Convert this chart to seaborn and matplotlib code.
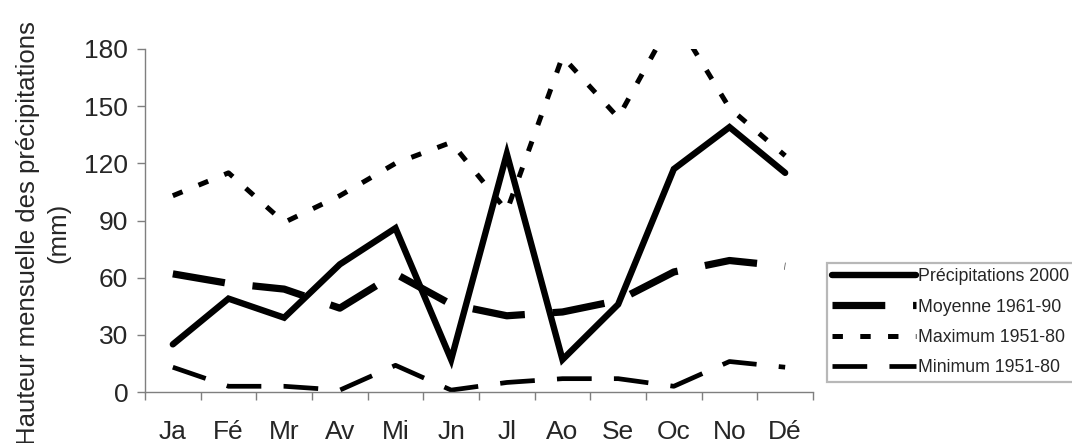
import matplotlib
matplotlib.use("Agg")
import matplotlib.pyplot as plt
from matplotlib.ticker import FixedLocator
import numpy as np
import pandas as pd
import seaborn as sns

# Monthly precipitation (mm)
MONTHS = ["Ja", "Fé", "Mr", "Av", "Mi", "Jn", "Jl", "Ao", "Se", "Oc", "No", "Dé"]
PRECIP_2000 = [25, 49, 39, 67, 86, 17, 125, 17, 46, 117, 139, 115]
MOYENNE_6190 = [62, 57, 54, 44, 62, 46, 40, 42, 48, 63, 69, 66]
MAXIMUM_5180 = [103, 115, 89, 103, 120, 131, 95, 176, 144, 197, 149, 124]
MINIMUM_5180 = [13, 3, 3, 1, 14, 1, 5, 7, 7, 3, 16, 13]
Y_TICKS = [0, 30, 60, 90, 120, 150, 180]

sns.set_style("white")
plt.rcParams["font.family"] = ["Liberation Sans", "DejaVu Sans"]
plt.rcParams["lines.scale_dashes"] = False

fig = plt.figure(figsize=(10.72, 4.43), dpi=100)
ax = fig.add_axes([145 / 1072, 51 / 443, 668 / 1072, 343 / 443])

x = np.arange(len(MONTHS))
series = [
    ("Précipitations 2000", PRECIP_2000, 4.6, "-"),
    ("Moyenne 1961-90", MOYENNE_6190, 5.2, (0, (38, 20))),
    ("Maximum 1951-80", MAXIMUM_5180, 3.6, (0, (7.5, 12.5))),
    ("Minimum 1951-80", MINIMUM_5180, 3.4, (0, (25, 16))),
]
for label, vals, lw, ls in series:
    sns.lineplot(x=x, y=vals, ax=ax, color="black", linewidth=lw, linestyle=ls,
                 label=label, sort=False, solid_capstyle="round",
                 dash_capstyle="butt", solid_joinstyle="miter")

ax.set_xlim(-0.5, len(MONTHS) - 0.5)
ax.set_ylim(0, 180)
ax.set_yticks(Y_TICKS)
ax.set_xticks(x)
ax.set_xticklabels(MONTHS)
ax.xaxis.set_minor_locator(FixedLocator(np.arange(-0.5, len(MONTHS), 1.0)))

for side in ["top", "right"]:
    ax.spines[side].set_visible(False)
for side in ["left", "bottom"]:
    ax.spines[side].set_color("#7f7f7f")
    ax.spines[side].set_linewidth(1.0)

ax.tick_params(axis="y", which="major", direction="out", length=6, width=1,
               color="#7f7f7f", labelsize=19, pad=6, left=True)
ax.tick_params(axis="x", which="major", length=0, labelsize=19, pad=20, bottom=True)
ax.tick_params(axis="x", which="minor", direction="out", length=6, width=1,
               color="#7f7f7f", bottom=True)

ax.set_ylabel("Hauteur mensuelle des précipitations\n(mm)", fontsize=18.5,
              linespacing=1.35)
ax.yaxis.set_label_coords(-0.112, 0.4636)

leg = ax.legend(loc="upper left", bbox_to_anchor=(827 / 1072, 1 - 263 / 443),
                bbox_transform=fig.transFigure, fontsize=12.8, handlelength=4.7,
                handletextpad=0.12, labelspacing=0.75, borderpad=0.3,
                borderaxespad=0, fancybox=False, frameon=True)
leg.get_frame().set_edgecolor("#a6a6a6")
leg.get_frame().set_linewidth(1.6)

fig.savefig("out.png", dpi=100)
